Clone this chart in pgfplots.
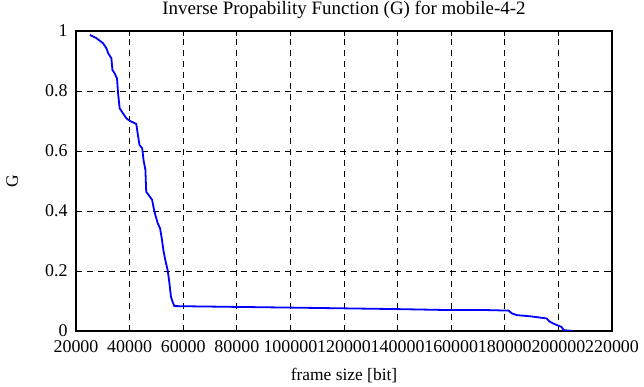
\documentclass[border=0pt]{standalone}
\usepackage{fontspec}
\setmainfont{Liberation Serif}
\usepackage{pgfplots}
\pgfplotsset{compat=1.18}
\begin{document}
\begin{tikzpicture}
\useasboundingbox (-76bp,-56bp) rectangle (568bp,331bp);
\begin{axis}[
  at={(0,0)}, anchor=south west,
  scale only axis, width=536bp, height=300bp,
  xmin=20000, xmax=220000, ymin=0, ymax=1,
  xtick={20000,40000,60000,80000,100000,120000,140000,160000,180000,200000,220000},
  xticklabels={20000,40000,60000,80000,100000,120000,140000,160000,180000,200000,220000},
  ytick={0,0.2,0.4,0.6,0.8,1},
  yticklabels={0,0.2,0.4,0.6,0.8,1},
  scaled x ticks=false,
  /pgf/number format/assume math mode=true,
  tick align=inside,
  major tick length=5bp,
  tick style={black, line width=0.8bp},
  axis line style={black, line width=1.2bp},
  grid=major,
  major grid style={black, line width=0.7bp, dash pattern=on 6bp off 5bp},
  ticklabel style={font=\fontsize{18}{20}\selectfont},
  xticklabel style={yshift=-6bp},
  yticklabel style={xshift=-5bp},
  title={Inverse Propability Function (G) for mobile-4-2},
  title style={at={(0.5,1.05)}, anchor=center, font=\fontsize{19}{21}\selectfont},
  xlabel={frame size [bit]},
  xlabel style={at={(0.5,-0.15)}, anchor=center, font=\fontsize{17.5}{20}\selectfont},
  ylabel={G},
  ylabel style={at={(-0.119,0.5)}, anchor=center, font=\fontsize{17.5}{20}\selectfont},
]
\addplot[color={rgb,255:red,0;green,0;blue,255}, line width=1.8bp] coordinates {
(25185,0.987) (27650,0.976) (30100,0.959) (31370,0.942) (32000,0.926)
(33200,0.909) (33600,0.870) (34400,0.859) (35300,0.842) (35700,0.792)
(36300,0.742) (37500,0.726) (38800,0.709) (40000,0.701) (42500,0.690)
(43100,0.653) (43700,0.620) (44700,0.609) (45200,0.570) (45900,0.537)
(46200,0.464) (47150,0.453) (48400,0.437) (49260,0.398) (50500,0.359)
(51370,0.342) (52100,0.303) (52600,0.270) (53300,0.237) (54200,0.203)
(54800,0.164) (55440,0.114) (56000,0.098) (56700,0.083)
(64800,0.082) (100000,0.078) (140000,0.073) (158000,0.070) (172000,0.070)
(181400,0.068) (182600,0.059) (184400,0.053) (189400,0.049) (195600,0.042)
(196800,0.031) (199300,0.020) (201100,0.014) (202000,0.003) (205400,0.000)
};
\end{axis}
\end{tikzpicture}
\end{document}
